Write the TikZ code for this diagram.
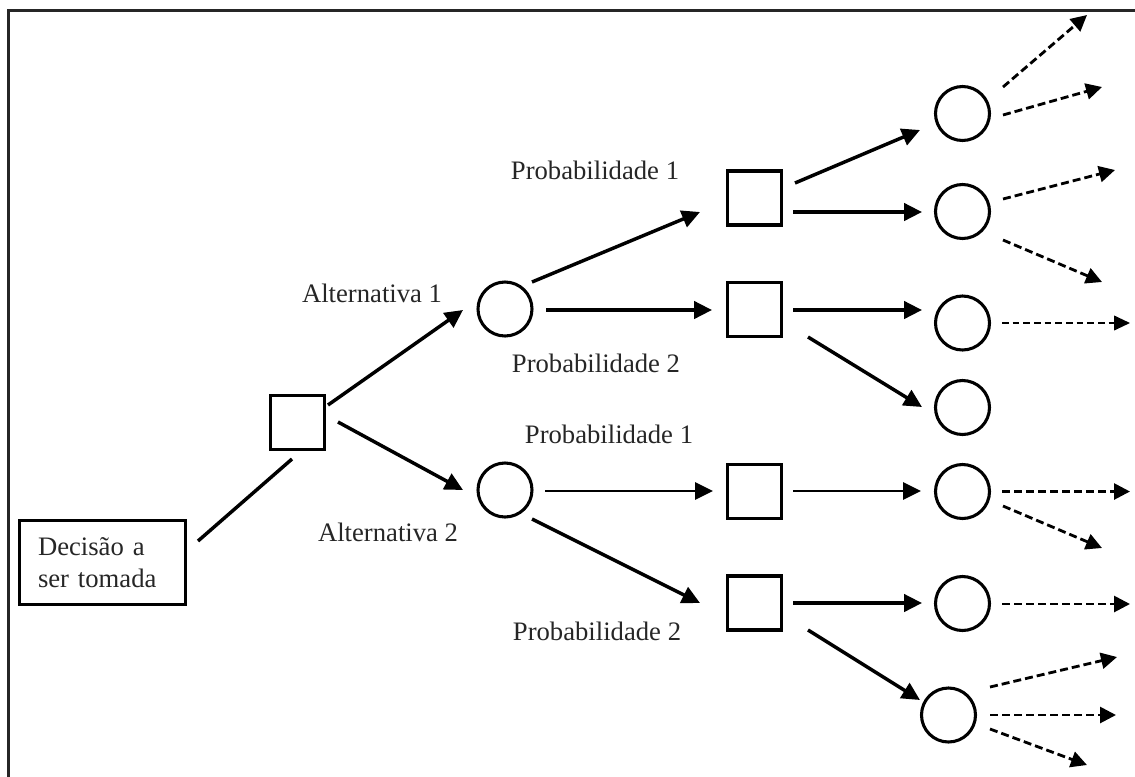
\documentclass[tikz,border=0pt]{standalone}
\usepackage{fontspec}
\setmainfont{Liberation Serif}
\usetikzlibrary{arrows.meta,calc}

\begin{document}
\begin{tikzpicture}[x=0.75pt,y=-0.75pt,
  box/.style={draw, line width=2.4pt, minimum size=40.5pt, inner sep=0pt},
  chance/.style={circle, draw, line width=2.3pt, minimum size=40.5pt, inner sep=0pt},
  note/.style={font=\fontsize{20}{24}\selectfont, text=black!85, anchor=base, inner sep=0pt},
  conn/.style={line width=2.6pt},
  arr/.style={line width=2.6pt, -{Triangle[length=13.5pt,width=13pt]}},
  thinarr/.style={line width=1.6pt, -{Triangle[length=13.5pt,width=13pt]}},
  outcome/.style={line width=2.1pt, dash pattern=on 6pt off 3pt, -{Triangle[length=12pt,width=12pt]}},
  outcomethin/.style={line width=1.4pt, dash pattern=on 5pt off 3pt, -{Triangle[length=12pt,width=11pt]}},
]
\useasboundingbox (0,0) rectangle (1135,776);
\clip (0,0) rectangle (1135,776);

% outer frame
\draw[black!85, line width=1.7pt] (8.5,10.5) rectangle (1160,800);

% decision to be taken
\node[box, minimum width=124.5pt, minimum height=63pt, align=left, text width=96.75pt,
      font=\fontsize{20}{24}\selectfont, text=black!85] (D) at (102.5,562.5) {Decisão a\\ser tomada};

% decision and chance nodes
\node[box] (S0) at (297.5,422.5) {};
\node[chance] (A1) at (505,309) {};
\node[chance] (A2) at (505,490) {};
\node[box] (B1) at (754.5,198) {};
\node[box] (B2) at (754.5,309.5) {};
\node[box] (B3) at (754.5,491.5) {};
\node[box] (B4) at (754.5,603) {};
\node[chance] (C1) at (962.5,113.5) {};
\node[chance] (C2) at (962.5,211.5) {};
\node[chance] (C3) at (962.5,323) {};
\node[chance] (C4) at (962.5,407.5) {};
\node[chance] (C5) at (962.5,491.5) {};
\node[chance] (C6) at (962.5,603.5) {};
\node[chance] (C7) at (948.5,715) {};

% labels
\node[note] (l1) at (372,302) {Alternativa 1};
\node[note] (l2) at (388,541) {Alternativa 2};
\node[note] (p1) at (595,179) {Probabilidade 1};
\node[note] (p2) at (596,372) {Probabilidade 2};
\node[note] (p3) at (609,443) {Probabilidade 1};
\node[note] (p4) at (597,640) {Probabilidade 2};

% branches
\draw[conn] ($(D)+(95.5,-21.5)$) -- ($(S0)+(-5.5,36.5)$);
\draw[arr] ($(S0)+(30.5,-17.5)$) -- ($(A1)+(-42,1)$);
\draw[arr] ($(S0)+(40.5,-0.5)$) -- ($(A2)+(-42,0)$);
\draw[arr] ($(A1)+(27,-27)$) -- ($(B1)+(-54.5,14)$);
\draw[arr] ($(A1)+(41,1)$) -- ($(B2)+(-42.5,0.5)$);
\draw[thinarr] ($(A2)+(40,1)$) -- ($(B3)+(-41.5,-0.5)$);
\draw[arr] ($(A2)+(27,29)$) -- ($(B4)+(-54.5,0)$);
\draw[arr] ($(B1)+(40.5,-15)$) -- ($(C1)+(-42.5,16.5)$);
\draw[arr] ($(B1)+(38.5,14)$) -- ($(C2)+(-40.5,0.5)$);
\draw[arr] ($(B2)+(38.5,0.5)$) -- ($(C3)+(-40.5,-13)$);
\draw[arr] ($(B2)+(53.5,27.5)$) -- ($(C4)+(-40.5,-0.5)$);
\draw[thinarr] ($(B3)+(38.5,-0.5)$) -- ($(C5)+(-41.5,-0.5)$);
\draw[arr] ($(B4)+(38.5,0)$) -- ($(C6)+(-40.5,-0.5)$);
\draw[arr] ($(B4)+(53.5,27)$) -- ($(C7)+(-28.5,-15)$);

% open outcomes
\coordinate (o1) at (1087,15);
\coordinate (o2) at (1102,87);
\coordinate (o3) at (1115,170);
\coordinate (o4) at (1102,282);
\coordinate (o5) at (1130,323);
\coordinate (o6) at (1130,491.5);
\coordinate (o7) at (1102,548);
\coordinate (o8) at (1130,604);
\coordinate (o9) at (1117,657);
\coordinate (o10) at (1116,715);
\coordinate (o11) at (1087,765);

\draw[outcome] ($(C1)+(40.5,-26.5)$) -- (o1);
\draw[outcome] ($(C1)+(40.5,1.5)$) -- (o2);
\draw[outcome] ($(C2)+(40.5,-12.5)$) -- (o3);
\draw[outcome] ($(C2)+(40.5,28.5)$) -- (o4);
\draw[outcomethin] ($(C3)+(39.5,0)$) -- (o5);
\draw[outcome] ($(C5)+(39.5,0)$) -- (o6);
\draw[outcome] ($(C5)+(40.5,14.5)$) -- (o7);
\draw[outcome] ($(C6)+(39.5,0.5)$) -- (o8);
\draw[outcome] ($(C7)+(41.5,-28)$) -- (o9);
\draw[outcome] ($(C7)+(41.5,0)$) -- (o10);
\draw[outcome] ($(C7)+(41.5,14)$) -- (o11);
\end{tikzpicture}
\end{document}
